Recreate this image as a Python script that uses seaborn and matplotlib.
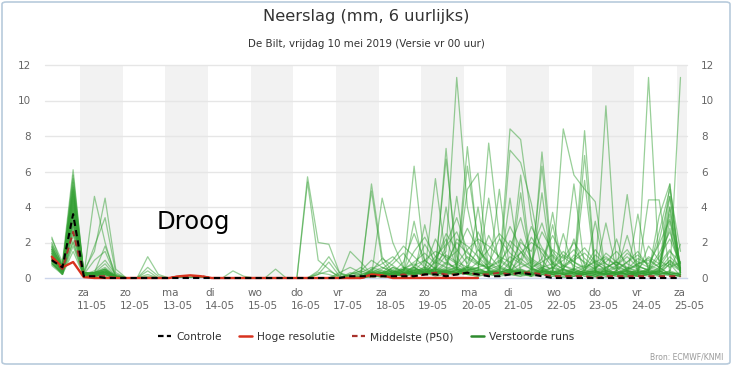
import numpy as np
import pandas as pd
import matplotlib
matplotlib.use("Agg")
import matplotlib.pyplot as plt
import matplotlib.transforms as mtransforms
from matplotlib.lines import Line2D
from matplotlib.patches import FancyBboxPatch
import seaborn as sns

# ---------------- data ----------------
times = pd.date_range("2019-05-10 08:00", periods=60, freq="6h")

tick_dates = pd.date_range("2019-05-11", "2019-05-25", freq="D")
tick_labels = ["za\n11-05", "zo\n12-05", "ma\n13-05", "di\n14-05", "wo\n15-05",
               "do\n16-05", "vr\n17-05", "za\n18-05", "zo\n19-05", "ma\n20-05",
               "di\n21-05", "wo\n22-05", "do\n23-05", "vr\n24-05", "za\n25-05"]
shaded_days = ["2019-05-11", "2019-05-13", "2019-05-15", "2019-05-17",
               "2019-05-19", "2019-05-21", "2019-05-23", "2019-05-25"]

controle = [1.0,0.6,3.6,0.1,0.1,0,0,0,0,0, 0,0,0,0,0,0,0,0,0,0,
            0,0,0,0,0,0,0,0,0.1,0.1, 0.1,0.1,0.1,0.1,0.1,0.2,0.2,0.1,0.2,0.3,
            0.2,0.1,0.1,0.2,0.3,0.2,0.1,0,0,0, 0,0,0,0,0,0,0,0,0,0]

hoge_resolutie = [1.2,0.6,0.9,0.05,0,0,0,0,0,0, 0,0,0.1,0.15,0.1,0,0,0,0,0,
                  0,0,0,0,0,0,0,0,0,0, 0.2,0.15,0,0,0,0,0,0,0,0, 0]

middelste = [1.1,0.5,2.6,0.1,0.1,0.1,0,0,0,0, 0,0,0.1,0.1,0.1,0,0,0,0,0,
             0,0,0,0,0,0,0,0,0,0, 0.1,0.1,0.1,0.2,0.1,0.2,0.3,0.2,0.2,0.3,
             0.2,0.2,0.3,0.2,0.3,0.3,0.2,0.1,0.1,0.1, 0.1,0,0.1,0.1,0.1,0.1,0.1,0.1,0.1,0.1]

verstoorde_runs = [
    [2.2,0.9,6.1,0.2,0.3,0,0,0,0,0, 0,0,0,0,0,0,0,0,0,0, 0,0,0,0,0,0,0,0,0.2,0.6, 0.2,0.1,0.3,0.5,0.9,1.4,0.8,1.5,11.3,4.0, 1.1,0.4,0.2,0.9,0.3,0.1,0.6,0.2,0,0.1, 0.3,0.1,0,0.2,0.4,0.1,0.5,0.3,1.0,0.4],
    [1.8,0.6,5.2,0.1,4.6,2.0,0,0,0,0, 0,0,0.1,0,0,0,0,0,0,0, 0,0,0,0,0,0.2,0.4,0.1,0,0, 5.3,1.2,0.3,0.1,0.6,0.2,1.0,2.2,0.6,7.4, 1.8,0.4,0.3,0.2,1.5,0.6,0.2,0.1,0,0.3, 0.1,0,0.6,0.2,0,0.1,0.3,0.2,0.8,0.1],
    [1.5,0.4,4.8,0.4,1.5,4.5,0.5,0,0,0, 0,0,0.1,0.1,0,0,0,0,0,0, 0,0,0,0,5.7,2.0,1.9,0.3,0,0.1, 0.2,0,0.1,0.3,0.2,0.5,0.3,0.4,0.2,0.6, 0.4,7.6,2.3,0.5,0.2,0.1,0.4,0.6,0.2,0.3, 0.2,0.1,0.3,0.1,0.1,0.2,0.4,0.2,0.3,0.2],
    [1.2,0.3,4.1,0.2,1.8,3.4,0.3,0,0,0, 0,0,0,0,0,0,0,0,0,0, 0,0,0,0,5.4,1.0,0.5,0,0,0, 0,0.2,0.1,0.4,6.3,0.8,0.3,0.2,0.5,0.2, 0.3,0.2,0.5,8.4,7.8,3.3,0.4,0.2,0.1,0.3, 0.2,0.4,0.1,0.2,0.1,0.3,0.2,0.6,0.2,0.1],
    [1.0,0.5,3.6,0.1,0.3,1.8,0.2,0,0,0, 0,0,0,0,0,0,0,0,0,0, 0,0,0,0,0,0,0,0,0.1,0.3, 4.9,0.9,0.2,0.1,0.3,0.2,5.6,1.0,0.4,0.2, 0.1,0.3,0.2,0.4,0.3,0.1,7.1,0.8,0.2,0.1, 0.5,0.2,9.7,0.6,0.1,0.2,0.4,0.1,0.3,0.2],
    [0.9,0.2,2.9,0.2,1.0,1.5,0.1,0,0,0.1, 0,0,0,0,0,0,0,0,0,0, 0,0.5,0,0,0,0,0,0,0,0, 0.1,4.5,2.0,0.6,0.2,0.3,0.5,0.3,0.2,0.4, 0.6,0.2,0.1,7.2,6.5,4.2,1.0,0.3,0.2,0.1, 0.2,0.1,0.3,0.2,0.4,0.2,11.3,0.6,0.2,0.1],
    [2.0,0.7,5.6,0.3,0.2,0.5,0.1,0,0,1.2, 0.2,0,0,0,0,0,0,0,0,0, 0,0,0,0,0,0,0,0,1.5,0.9, 0.2,0.1,0.3,0.2,0.4,0.6,0.3,7.3,0.5,0.2, 0.3,0.2,0.1,0.2,0.3,0.1,0.2,0.4,8.4,5.8, 5.0,4.3,0.3,0.2,0.1,0.3,0.2,0.4,0.1,0.2],
    [0.8,0.3,3.2,0.1,0.2,0.4,0,0,0,0.6, 0.1,0,0,0,0,0,0,0.4,0.1,0, 0,0,0,0,0,0.4,1.2,0.3,0.1,0.2, 0.3,0.2,0.4,0.2,3.2,0.5,0.3,0.4,0.6,6.3, 2.1,0.5,0.3,0.2,0.4,0.3,0.2,0.1,0.3,0.5, 8.3,0.4,0.2,0.1,0.3,0.2,0.1,0.5,5.3,0.3],
    [1.6,0.6,4.4,0.2,0.1,0.3,0,0,0,0.4, 0,0,0.1,0,0,0,0,0,0,0, 0,0,0,0,0,0,0,0,0.3,0.2, 0.4,0.1,0.2,0.5,0.3,0.2,0.6,6.7,1.2,0.3, 0.2,0.4,0.3,0.5,5.8,0.6,0.3,3.7,0.2,0.1, 0.3,0.2,0.1,0.4,4.7,0.3,0.2,0.1,0.2,11.3],
    [1.3,0.4,3.9,0.2,0.3,0.8,0.1,0,0,0, 0,0,0,0,0,0,0,0,0,0, 0,0,0,0,0,0.3,0.2,0,0.2,0.4, 0.2,0.3,0.1,0.2,0.5,0.4,0.3,0.6,0.4,5.0, 5.9,0.4,0.3,0.2,0.1,0.5,6.3,0.4,0.2,0.3, 0.1,0.2,0.4,0.2,0.3,0.1,0.2,0.3,4.6,0.5],
    [1.1,0.5,4.6,0.3,0.2,0.2,0.1,0,0,0, 0,0,0.1,0,0,0,0,0,0,0, 0,0,0,0,0,0,0,0,0,0.1, 0.2,0.1,0.3,0.2,0.4,0.3,0.5,0.4,0.6,0.3, 0.4,4.5,0.6,0.3,4.8,0.5,0.3,0.2,0.5,5.3, 0.6,0.3,0.2,2.2,0.3,0.1,0.2,0.4,0.2,0.1],
    [1.7,0.7,5.0,0.2,0.3,0.3,0.1,0,0,0, 0,0,0,0,0,0,0,0,0,0, 0,0,0,0,0,0,0,0,0,0, 0.1,0.2,0.1,0.3,0.2,3.0,0.4,0.3,4.6,0.5, 0.3,0.2,0.5,0.4,0.3,0.2,0.4,0.3,2.5,0.4, 6.9,0.4,0.2,0.3,0.5,0.2,0.3,0.4,0.2,0.3],
    [0.9,0.2,2.4,0.1,0.1,0.1,0,0,0,0, 0,0,0,0,0,0,0,0,0,0, 0,0,0,0,0,0.2,0.9,0.1,0,0, 0.3,0.2,0.1,0.3,0.2,0.4,0.3,4.0,0.5,0.3, 4.0,0.2,0.3,0.5,0.4,0.3,0.5,0.2,0.4,2.2, 0.3,3.2,0.2,0.4,0.2,0.3,0.5,0.2,0.3,0.2],
    [1.4,0.4,3.3,0.2,0.2,0.3,0,0,0,0, 0,0,0,0,0,0,0,0,0,0, 0,0,0,0,0,0,0,0,0,0, 0.2,0.3,0.4,0.2,0.3,0.5,0.4,0.3,0.2,0.4, 0.3,0.2,5.0,0.3,0.4,0.2,4.8,0.3,0.2,0.4, 5.5,0.3,0.2,0.4,2.4,0.3,0.2,0.4,4.0,0.3],
    [1.9,0.8,5.4,0.3,0.2,0.4,0.1,0,0,0, 0,0,0,0,0,0,0,0,0,0, 0,0,0,0,0,0,0,0,0,0.2, 0.3,0.2,0.6,0.3,0.2,0.4,0.3,0.2,0.3,0.5, 0.4,0.3,0.2,4.5,0.3,0.4,0.3,3.0,0.2,0.3, 0.2,0.3,3.1,0.4,0.2,3.6,0.3,0.2,0.4,1.9],
    [1.0,0.3,2.1,0.1,0.2,0.2,0,0,0,0, 0,0,0,0,0,0,0,0,0,0, 0,0,0,0,0,0,0,0,0,0, 0.1,0.2,0.3,0.2,0.5,0.3,0.2,0.4,0.3,0.2, 0.3,0.4,0.2,0.3,0.2,0.5,0.4,0.3,0.5,0.2, 0.4,0.3,0.2,0.3,0.4,0.2,4.4,4.4,0.3,0.2],
    [0.7,0.2,1.5,0.1,0.1,0.2,0,0,0,0, 0,0,0,0,0,0,0,0,0,0, 0,0,0,0,0,0,0,0,0,0, 0.2,0.1,0.2,0.3,0.2,0.3,0.2,0.3,0.4,0.3, 0.2,0.3,0.4,0.2,0.3,0.2,0.3,0.2,0.3,0.4, 0.3,0.2,0.3,0.2,0.3,0.4,0.3,3.5,5.3,0.2],
    [1.2,0.5,3.0,0.2,0.3,0.5,0.1,0,0,0, 0,0,0,0,0,0,0,0,0,0, 0,0,0,0,0,0,0,0,0,0, 0.3,0.2,0.1,0.2,0.3,0.2,0.3,0.5,0.3,0.6, 0.5,0.3,0.2,0.3,0.4,0.3,0.2,0.3,0.4,0.3, 0.2,0.3,0.4,0.3,0.2,0.3,0.4,2.6,5.0,1.5],
    [1.6,0.5,4.0,0.2,0.2,0.3,0,0,0,0, 0,0,0,0,0,0,0,0,0,0, 0,0,0,0,0,0,0,0,0,0.1, 0.2,0.3,0.2,0.4,0.3,0.2,0.4,0.3,0.5,0.4, 0.3,0.2,0.4,0.3,0.5,0.3,0.4,0.2,0.3,0.2, 0.3,0.4,0.2,0.3,0.4,0.3,0.2,0.3,3.2,0.4],
    [2.3,0.6,5.8,0.3,0.3,0.4,0.1,0,0,0, 0,0,0,0,0,0,0,0,0,0, 0,0,0,0,0,0,0,0,0,0, 0.4,0.3,0.2,0.3,0.4,0.3,0.2,0.4,0.3,0.5, 0.4,0.3,0.2,0.4,0.3,0.2,0.4,0.3,0.2,0.4, 0.3,0.2,0.4,0.3,0.2,0.4,0.3,0.2,4.0,0.3],
    [1.1,0.4,3.4,0.2,0.2,0.3,0,0,0,0, 0,0,0,0,0,0,0,0,0,0, 0,0,0,0,0,0,0,0,0,0, 0.5,0.8,1.2,0.6,0.4,1.0,1.5,1.2,0.8,1.6, 2.2,1.8,1.2,0.9,1.4,2.0,1.6,0.8,0.5,0.3, 0.6,0.9,1.2,0.7,0.4,0.8,1.1,0.6,0.9,0.5],
    [1.4,0.5,4.2,0.3,0.2,0.4,0,0,0,0, 0,0,0,0,0,0,0,0,0,0, 0,0,0,0,0,0,0,0,0.2,0.4, 1.0,0.6,0.3,0.9,2.5,1.0,0.5,1.8,2.6,1.1, 0.7,2.4,1.1,0.6,2.0,1.5,3.1,1.2,0.6,1.0, 1.4,0.8,0.5,1.0,1.6,0.7,0.4,1.2,2.2,0.8],
    [0.8,0.3,2.6,0.1,0.1,0.3,0,0,0,0, 0,0,0,0,0,0,0,0,0,0, 0,0,0,0,0,0,0,0,0,0, 0.2,0.5,1.0,1.8,1.2,0.6,2.2,1.0,1.5,2.8, 1.6,0.8,2.2,1.4,0.9,0.5,1.1,2.4,1.2,0.7, 0.4,1.3,0.8,0.5,0.9,1.5,0.6,0.4,1.0,0.6],
    [1.7,0.6,4.9,0.2,0.3,0.5,0.1,0,0,0, 0,0,0,0,0,0,0,0,0,0, 0,0,0,0,0,0,0,0,0,0, 0.3,0.2,0.6,0.4,1.5,2.3,1.2,0.8,2.0,1.4, 0.9,1.6,2.5,1.8,1.0,2.9,1.7,0.9,0.5,1.3, 0.9,0.5,1.4,0.9,0.6,0.3,1.8,1.0,0.6,0.9],
    [1.0,0.4,3.1,0.2,0.2,0.3,0,0,0,0, 0,0,0,0,0,0,0,0,0,0, 0,0,0,0,0,0,0,0,0,0, 0.4,1.1,0.7,0.3,0.6,1.9,0.9,2.5,1.6,0.8, 2.6,1.3,0.6,2.1,1.5,0.8,0.4,1.6,1.1,2.0, 1.1,0.6,0.9,1.5,0.8,0.5,1.2,0.8,1.6,0.4],
    [1.5,0.7,3.8,0.3,0.2,0.4,0,0,0,0, 0,0,0,0,0,0,0,0,0,0, 0,0,0,0,0,0,0,0.3,0.6,0.3, 0.6,0.4,0.2,0.5,0.8,0.4,1.2,1.9,3.4,1.5, 0.8,0.5,1.3,2.9,1.7,0.9,2.6,1.5,0.7,1.1, 1.7,0.9,0.4,0.7,1.2,0.6,0.5,1.4,2.6,0.7],
    [0.9,0.3,2.0,0.1,0.1,0.2,0,0,0,0, 0,0,0,0,0,0,0,0,0,0, 0,0,0,0,0,0,0,0,0,0, 0.2,0.3,0.5,0.2,0.3,0.6,0.4,0.9,0.5,1.2, 0.8,0.6,1.0,0.5,2.2,1.1,0.7,0.5,1.3,0.9, 0.5,1.0,0.6,0.9,0.5,1.1,0.8,1.9,3.3,0.8],
    [1.3,0.5,4.3,0.2,0.3,0.5,0,0,0,0, 0,0,0,0,0,0,0,0,0,0, 0,0,0,0,0,0,0,0,0,0, 0.5,0.3,0.8,1.4,0.6,0.3,0.9,0.6,2.2,1.8, 1.2,0.6,0.9,1.7,3.4,1.0,0.6,0.8,1.5,0.9, 0.6,1.6,0.8,0.4,0.9,1.3,0.7,0.5,1.2,0.6],
    [1.8,0.6,5.1,0.3,0.2,0.4,0.1,0,0,0, 0,0,0,0,0,0,0,0,0,0, 0,0,0,0,0,0,0,0,0,0, 0.3,0.6,0.4,0.2,0.7,1.0,0.5,1.3,0.9,0.6, 1.6,0.9,0.5,1.2,0.8,2.3,1.4,0.6,1.0,1.6, 0.8,0.5,1.1,0.7,1.4,0.9,0.6,2.1,4.6,0.5],
    [1.1,0.4,3.5,0.2,0.2,0.3,0,0,0,0, 0,0,0,0,0,0,0,0,0,0, 0,0,0,0,0,0,0,0,0,0, 0.2,0.4,0.3,0.6,0.4,0.5,0.3,0.8,0.6,0.4, 0.9,0.5,0.7,0.4,1.1,0.6,0.9,1.3,0.7,0.5, 0.7,0.4,0.6,0.9,0.5,0.8,1.0,0.6,1.5,0.9],
    [1.2,0.5,4.5,0.2,0.4,1.0,0.2,0,0,0.2, 0,0,0,0,0,0,0,0,0,0, 0,0,0,0,0,0,0,0,0,0, 0.1,0.2,0.3,0.5,0.3,0.2,0.6,0.4,0.3,0.7, 0.5,0.3,0.6,0.4,0.8,0.5,0.3,0.6,0.4,0.5, 0.3,0.6,0.4,0.2,0.5,0.7,0.4,0.3,0.8,0.4],
    [1.6,0.4,3.7,0.3,0.3,0.6,0.1,0,0,0, 0,0,0,0,0,0,0,0,0,0, 0,0,0,0,0,0,0,0.2,0.1,0, 0.3,0.1,0.2,0.4,0.6,0.3,0.2,0.5,0.8,0.4, 0.6,0.8,0.4,0.3,0.6,0.9,0.5,0.3,0.7,0.4, 0.2,0.5,0.3,0.6,0.4,0.3,0.5,0.8,2.8,0.3],
    [0.8,0.2,1.8,0.1,0.1,0.2,0,0,0,0, 0,0,0,0,0,0,0,0,0,0, 0,0,0,0,0,0,0,0,0,0, 0.1,0.1,0.2,0.1,0.2,0.3,0.1,0.2,0.3,0.2, 0.1,0.2,0.3,0.2,0.1,0.2,0.3,0.2,0.1,0.2, 0.2,0.1,0.2,0.3,0.2,0.1,0.2,0.3,0.2,0.1],
    [1.4,0.6,4.7,0.2,0.2,0.3,0,0,0,0, 0,0,0,0,0,0,0,0,0,0, 0,0,0,0,0,0,0,0,0,0, 0.2,0.3,0.2,0.4,0.3,0.4,0.2,0.3,0.4,0.6, 0.4,0.6,0.3,0.5,0.2,0.4,0.6,0.3,0.5,0.3, 0.4,0.3,0.5,0.2,0.6,0.4,0.3,0.5,3.6,0.3],
    [1.0,0.3,2.7,0.1,0.2,0.2,0,0,0,0, 0,0,0,0,0,0,0,0,0,0, 0,0,0,0,0,0,0,0,0,0, 0.3,0.2,0.4,0.2,0.3,0.2,0.5,0.3,0.2,0.3, 0.2,0.4,0.2,0.3,0.5,0.2,0.3,0.4,0.2,0.5, 0.3,0.4,0.2,0.3,0.2,0.5,0.3,0.2,0.4,0.2],
]

# ---------------- frames ----------------
runs_df = pd.DataFrame(
    [(m, t, v) for m, run in enumerate(verstoorde_runs) for t, v in zip(times, run)],
    columns=["member", "tijd", "mm"])
ctrl_df = pd.DataFrame({"tijd": times, "mm": controle})
hres_df = pd.DataFrame({"tijd": times[:len(hoge_resolutie)], "mm": hoge_resolutie})
med_df = pd.DataFrame({"tijd": times, "mm": middelste})

# ---------------- figure ----------------
sns.set_theme(style="white")
plt.rcParams['font.family'] = ['DejaVu Sans']

W, H = 732, 366
fig = plt.figure(figsize=(W / 100, H / 100), dpi=100)
fig.patch.set_facecolor("white")
ax = fig.add_axes([45 / W, 1 - 278 / H, (687 - 45) / W, (278 - 65) / H])

# day bands
for d in shaded_days:
    start = pd.Timestamp(d)
    ax.axvspan(start, start + pd.Timedelta(days=1), color="#f2f2f2", lw=0, zorder=0)

# gridlines
for yv in range(2, 13, 2):
    ax.axhline(yv, color="#e6e6e6", lw=1, zorder=0.5)

sns.lineplot(data=runs_df, x="tijd", y="mm", units="member", estimator=None,
             color="#33a033", alpha=0.5, lw=0.9, legend=False, ax=ax, zorder=2)
sns.lineplot(data=med_df, x="tijd", y="mm", color="#a8322c", lw=1.5,
             linestyle=(0, (3, 2)), legend=False, ax=ax, zorder=3)
sns.lineplot(data=hres_df, x="tijd", y="mm", color="#d8321e", lw=1.7,
             legend=False, ax=ax, zorder=4)
sns.lineplot(data=ctrl_df, x="tijd", y="mm", color="black", lw=1.5,
             linestyle=(0, (3, 2)), legend=False, ax=ax, zorder=5)
for ln in ax.lines:
    ln.set_clip_on(False)

ax.set_xlim(pd.Timestamp("2019-05-10 04:10"), pd.Timestamp("2019-05-25 05:40"))
ax.set_ylim(0, 12)
ax.set_xlabel("")
ax.set_ylabel("")

for s in ["top", "left", "right"]:
    ax.spines[s].set_visible(False)
ax.spines["bottom"].set_color("#ccd6eb")
ax.spines["bottom"].set_linewidth(1)

ax.set_yticks(range(0, 13, 2))
ax.set_yticklabels([str(v) for v in range(0, 13, 2)])
ax.tick_params(axis="y", length=0, labelsize=7.5, labelcolor="#666666",
               labelleft=True, labelright=True, pad=10)

ax.set_xticks(tick_dates)
ax.set_xticklabels(tick_labels, ha="left", multialignment="left")
ax.tick_params(axis="x", length=5, width=1, color="#ccd6eb", direction="out",
               labelsize=7.5, labelcolor="#666666", pad=2)
offset = mtransforms.ScaledTranslation(-3 / 100, 0, fig.dpi_scale_trans)
for lab in ax.get_xticklabels():
    lab.set_transform(lab.get_transform() + offset)
    lab.set_linespacing(1.45)

# Droog annotation
ax.text(pd.Timestamp("2019-05-12 18:50"), 3.15, "Droog", fontsize=17.5,
        color="black", va="center", ha="left", zorder=6)

# titles
fig.text(0.5, 1 - 17 / H, "Neerslag (mm, 6 uurlijks)", ha="center", va="center",
         fontsize=11.7, color="#333333")
fig.text(0.5, 1 - 44 / H, "De Bilt, vrijdag 10 mei 2019 (Versie vr 00 uur)",
         ha="center", va="center", fontsize=7.4, color="#333333")

# legend
handles = [
    Line2D([], [], color="black", lw=1.6, linestyle=(0, (2.5, 1.5))),
    Line2D([], [], color="#d8321e", lw=1.8),
    Line2D([], [], color="#a8322c", lw=1.6, linestyle=(0, (2.5, 1.5))),
    Line2D([], [], color="#2e8b2e", lw=1.8),
]
labels = ["Controle", "Hoge resolutie", "Middelste (P50)", "Verstoorde runs"]
fig.legend(handles, labels, loc="center", bbox_to_anchor=(0.5, 1 - 337 / H),
           ncol=4, frameon=False, fontsize=7.7, handlelength=1.2,
           handletextpad=0.5, columnspacing=1.6, labelcolor="#333333")

fig.text(1 - 9 / W, 1 - 357 / H, "Bron: ECMWF/KNMI", ha="right", va="center",
         fontsize=5.5, color="#999999")

# outer frame
frame = FancyBboxPatch((2 / W, 2 / H), 1 - 4 / W, 1 - 4 / H,
                       boxstyle="round,pad=0,rounding_size=0.006",
                       transform=fig.transFigure, fill=False,
                       edgecolor="#b8cbdc", lw=1.2)
fig.patches.append(frame)

fig.savefig("out.png", dpi=100)
